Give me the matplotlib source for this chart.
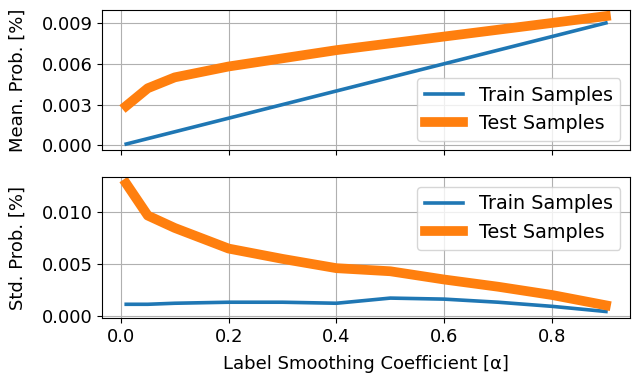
"""Mean / std of predicted probability vs label smoothing coefficient."""
import matplotlib
matplotlib.use("Agg")
import matplotlib.pyplot as plt

# label smoothing coefficients
alpha = [0.01, 0.05, 0.1, 0.2, 0.3, 0.4, 0.5, 0.6, 0.7, 0.8, 0.9]

# mean probability
mean_train = [0.0001, 0.0005, 0.0010, 0.0020, 0.0030, 0.0040, 0.0050, 0.0060, 0.0070, 0.0080, 0.0090]
mean_test = [0.0029, 0.0042, 0.0050, 0.0058, 0.0064, 0.0070, 0.0075, 0.0080, 0.0085, 0.0090, 0.0095]

# std of probability
std_train = [0.0011, 0.0011, 0.0012, 0.0013, 0.0013, 0.0012, 0.0017, 0.0016, 0.0013, 0.0009, 0.0004]
std_test = [0.0128, 0.0097, 0.0085, 0.0065, 0.0055, 0.0046, 0.0043, 0.0035, 0.0028, 0.0020, 0.0010]

fs = 13
leg_fs = 13.8
plt.rcParams['font.size'] = fs

fig, (ax1, ax2) = plt.subplots(2, 1, figsize=(6.35, 3.74), dpi=100, sharex=True)
fig.subplots_adjust(left=0.161, right=0.992, top=0.974, bottom=0.150, hspace=0.19)

# top: mean
ax1.plot(alpha, mean_train, color='#1f77b4', lw=2.6, label='Train Samples')
ax1.plot(alpha, mean_test, color='#ff7f0e', lw=7, label='Test Samples')
ax1.set_yticks([0.0, 0.003, 0.006, 0.009])
ax1.set_ylabel('Mean. Prob. [%]', labelpad=11)
ax1.grid(True)
ax1.legend(loc='lower right', fontsize=leg_fs)

# bottom: std
ax2.plot(alpha, std_train, color='#1f77b4', lw=2.6, label='Train Samples')
ax2.plot(alpha, std_test, color='#ff7f0e', lw=7, label='Test Samples')
ax2.set_yticks([0.0, 0.005, 0.010])
ax2.set_ylabel('Std. Prob. [%]', labelpad=11)
ax2.set_xlabel('Label Smoothing Coefficient [α]', labelpad=7)
ax2.set_xticks([0.0, 0.2, 0.4, 0.6, 0.8])
ax2.grid(True)
ax2.legend(loc='upper right', fontsize=leg_fs)

plt.savefig('out.png')
